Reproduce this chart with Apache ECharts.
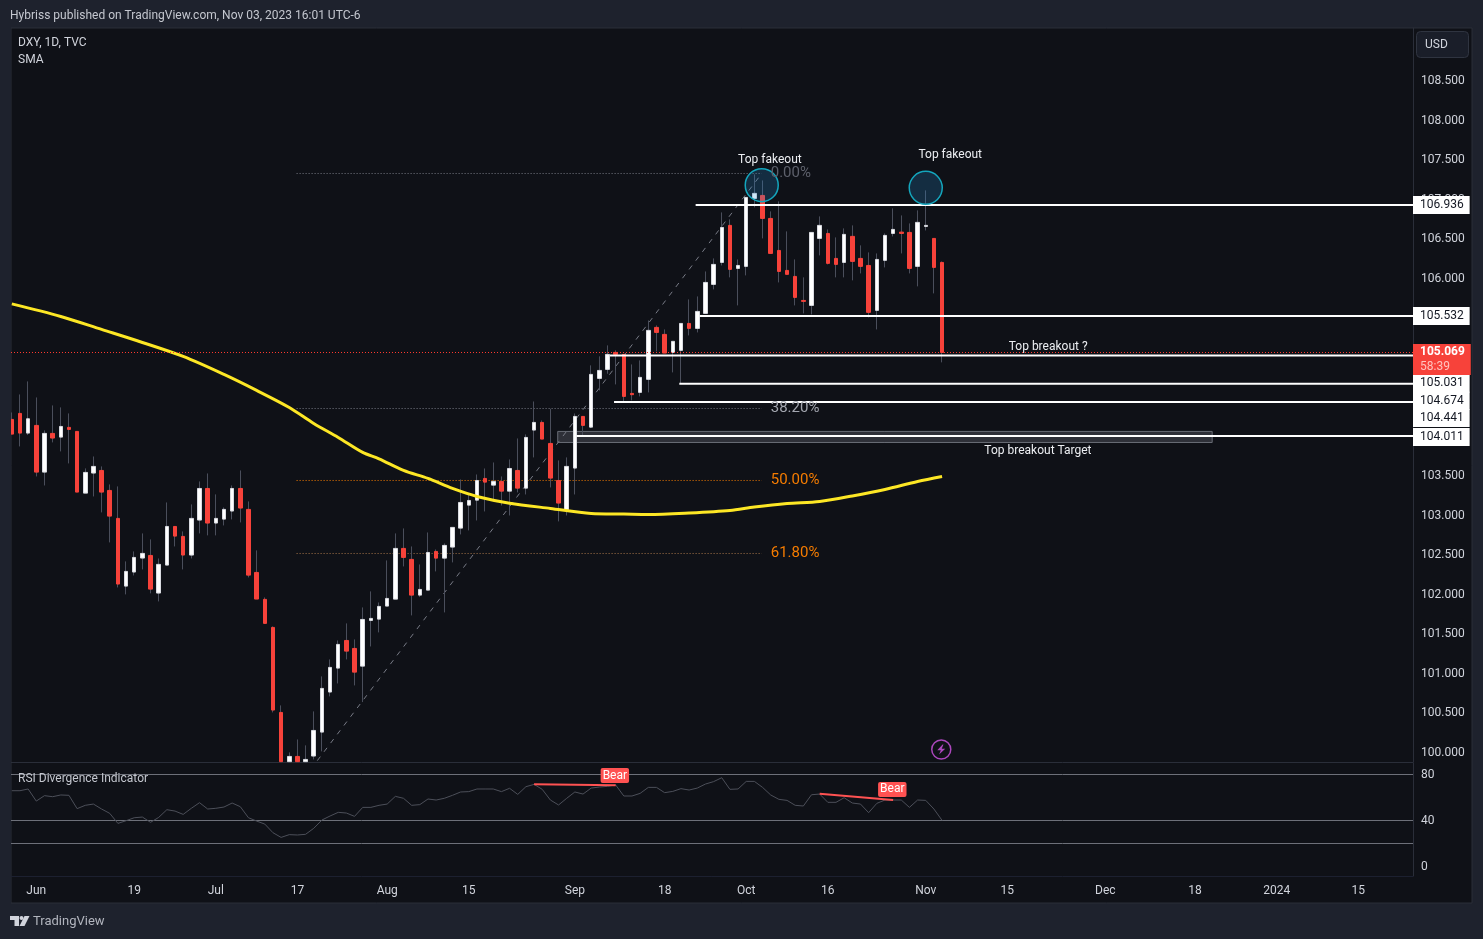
<!DOCTYPE html>
<html>
<head>
<meta charset="utf-8">
<title>DXY, 1D, TVC</title>
<script src="https://cdn.jsdelivr.net/npm/echarts@6/dist/echarts.min.js"></script>
<style>
  html, body { margin: 0; padding: 0; background: #1e222d; }
  #chart { width: 1483px; height: 939px; }
</style>
</head>
<body>
<div id="chart"></div>
<script>
const FONT = 'Roboto';

// bar 0 is Jun 1 2023, weekdays only
const firstBar = -3;
const opens = [
  104.222,104.298,104.049,104.146,103.555,104.045,103.998,104.121,104.070,103.289,
  103.543,103.576,103.323,102.969,102.112,102.290,102.467,102.500,102.024,102.378,
  102.867,102.741,102.505,102.948,103.348,102.910,102.960,103.062,103.348,103.083,
  102.285,101.944,101.589,100.513,99.89,99.956,99.89,99.961,100.264,100.771,
  101.074,101.424,101.323,101.099,101.677,101.694,101.859,101.947,102.589,102.450,
  101.998,102.061,102.551,102.466,102.606,102.846,103.137,103.200,103.475,103.390,
  103.437,103.314,103.576,103.352,104.087,104.184,103.918,103.449,103.082,103.606,
  104.260,104.124,104.741,104.855,105.070,105.045,104.551,104.564,104.729,105.387,
  105.298,105.070,105.096,105.437,105.374,105.564,105.931,106.209,106.678,106.133,
  106.159,107.019,107.057,106.766,106.361,106.108,106.032,105.728,105.665,106.513,
  106.576,106.260,106.209,106.539,106.260,106.171,105.602,106.235,106.576,106.593,
  106.589,106.159,106.665,106.513,106.209
];
const closes = [
  104.036,104.049,104.230,103.555,104.045,103.986,104.133,104.095,103.302,103.551,
  103.627,103.302,102.998,102.138,102.298,102.475,102.526,102.074,102.387,102.867,
  102.745,102.505,102.969,103.348,102.910,102.969,103.083,103.348,103.100,102.251,
  101.948,101.640,100.543,99.89,99.956,99.89,99.918,100.285,100.817,101.083,
  101.374,101.289,101.023,101.690,101.703,101.855,101.956,102.589,102.475,101.998,
  102.070,102.538,102.466,102.627,102.855,103.171,103.196,103.449,103.428,103.437,
  103.314,103.601,103.352,103.994,104.184,103.973,103.479,103.163,103.627,104.260,
  104.146,104.792,104.842,105.045,105.045,104.513,104.535,104.754,105.349,105.323,
  105.062,105.210,105.437,105.374,105.589,105.956,106.184,106.652,106.121,106.171,
  107.032,107.083,106.766,106.323,106.095,106.058,105.766,105.716,106.589,106.678,
  106.197,106.184,106.564,106.222,106.159,105.577,106.247,106.551,106.627,106.576,
  106.133,106.716,106.678,106.146,105.069
];
const lows = [
  104.036,103.880,104.024,103.500,103.386,103.931,103.817,103.665,103.302,103.289,
  103.247,103.045,102.665,102.095,102.007,102.247,102.323,102.020,101.918,102.378,
  102.614,102.323,102.462,102.779,102.754,102.754,102.880,102.956,102.918,102.222,
  101.948,101.640,100.513,99.89,99.89,99.89,99.89,99.918,100.020,100.716,
  100.880,101.184,100.855,100.644,101.348,101.526,101.859,101.947,102.361,101.741,
  101.973,102.061,102.298,101.779,102.412,102.766,102.817,102.943,103.057,103.213,
  103.133,103.006,103.298,103.272,103.741,103.973,103.361,102.931,103.006,103.272,
  104.019,104.112,104.589,104.800,104.665,104.454,104.463,104.513,104.564,105.083,
  105.062,104.817,104.678,105.285,105.323,105.564,105.868,106.171,106.020,105.665,
  106.045,106.906,106.513,106.323,105.956,106.058,105.665,105.564,105.551,106.298,
  106.184,106.020,106.020,105.982,106.070,105.513,105.361,106.146,106.538,106.323,
  106.070,105.906,106.614,105.817,104.944
];
const highs = [
  104.310,104.538,104.703,104.500,104.083,104.399,104.374,104.298,104.070,103.602,
  103.753,103.627,103.399,103.374,102.425,102.551,102.779,102.703,102.462,103.171,
  102.867,102.804,103.146,103.437,103.538,103.273,103.108,103.386,103.576,103.184,
  102.564,101.969,101.602,100.602,100.007,100.171,100.096,100.526,100.969,101.184,
  101.424,101.640,101.437,101.842,102.045,101.905,102.437,102.779,102.842,102.614,
  102.386,102.791,102.576,102.652,102.855,103.462,103.272,103.525,103.601,103.677,
  103.500,103.715,103.981,104.032,104.449,104.209,104.357,103.703,103.741,104.297,
  104.260,104.906,105.020,105.159,105.096,105.045,104.918,104.969,105.475,105.412,
  105.361,105.210,105.437,105.741,105.779,106.095,106.260,106.842,106.754,106.247,
  107.032,107.323,107.247,106.855,106.982,106.602,106.247,106.020,106.589,106.792,
  106.627,106.526,106.640,106.678,106.425,106.336,106.323,106.576,106.893,106.804,
  106.703,106.868,107.121,106.513,106.222
];
const rsiValues = [
  65.9,65.9,67.4,56.9,61.6,60.7,62.2,61.9,50.3,53.2,
  54.3,50.0,46.2,37.5,39.8,42.4,43.0,38.4,42.7,49.4,
  48.2,45.3,50.6,55.5,50.0,50.6,51.7,55.2,52.0,42.4,
  39.5,36.9,29.4,25.3,27.7,27.4,28.0,33.2,40.4,43.9,
  47.1,46.5,43.6,51.4,51.4,53.2,54.3,61.0,59.3,53.2,
  53.8,58.7,57.8,59.3,61.9,64.8,65.1,67.4,67.4,67.4,
  65.1,68.0,62.7,69.4,71.4,67.1,57.8,53.5,59.3,64.8,
  63.0,68.2,69.1,69.7,70.9,61.3,61.3,63.6,68.8,68.8,
  64.2,65.3,67.7,66.5,68.2,71.7,73.8,77.2,67.1,67.4,
  74.0,74.0,68.8,62.2,58.4,57.5,53.2,52.6,62.4,63.0,
  55.8,55.8,59.8,55.2,54.3,46.8,54.9,57.8,57.8,57.8,
  51.4,57.8,57.5,50.0,40.1
];

const smaBars = [-3,3,8,13,18,23,27,31,34,37,40,42,45,48,51,54,58,63,68,72,75,80,85,88,92,96,100,104,108,111];
const smaValues = [
  105.684,105.525,105.361,105.196,105.019,104.791,104.589,104.373,104.171,103.994,
  103.804,103.724,103.576,103.475,103.348,103.247,103.162,103.095,103.032,103.025,
  103.019,103.038,103.070,103.114,103.158,103.184,103.253,103.335,103.437,103.500
];

// drawn horizontal levels: price, first bar, shown in a tag on the price scale
const levelPrices = [106.936, 105.532, 105.031, 104.674, 104.441, 104.011];
const levelStarts = [80.8, 81.3, 70.3, 78.8, 70.8, 66.2];
const tagNudges = [0, 0, 28, 17, 16, 1];
const lastPrice = 105.069;
const countdown = '58:39';

const fibPrices = [107.335, 104.360, 103.449, 102.525];
const fibLabels = ['0.00%', '38.20%', '50.00%', '61.80%'];
const fibLineColors = ['#787b86', '#787b86', '#f57c00', '#a8774a'];
const fibTextColors = ['#5d606b', '#a3a6af', '#f57c00', '#f57c00'];
const fibStartBar = 31.9;
const fibEndBar = 88.9;
const fibLabelBar = 90;
const fibDiagonal = [[32, 99.57], [88.9, 107.335]];

const fakeoutCircles = [[88.9, 107.187], [109, 107.153]];
const targetBox = { x: [63.9, 144.1], y: [104.07, 103.93] };

const noteBars = [89.9, 112, 124, 122.75];
const notePrices = [107.5, 107.563, 105.135, 103.816];
const noteTexts = ['Top fakeout', 'Top fakeout', 'Top breakout ?', 'Top breakout Target'];

const bearLines = [[[61, 71.5], [71, 70.6]], [[96, 63.3], [105, 57.8]]];
const bearTags = [[70.9, 79.1], [104.9, 67]];
const rsiLevels = [80, 40, 20];

const timeTickBars = [0, 12, 22, 32, 43, 53, 66, 77, 87, 97, 109, 119, 131, 142, 152, 162];
const timeTickLabels = ['Jun', '19', 'Jul', '17', 'Aug', '15', 'Sep', '18', 'Oct', '16', 'Nov', '15', 'Dec', '18', '2024', '15'];
const priceTicks = [100, 100.5, 101, 101.5, 102, 102.5, 103, 103.5, 104, 104.5, 105, 105.5, 106, 106.5, 107, 107.5, 108, 108.5];
const rsiTicks = [0, 40, 80];

const barRange = [-3.1, 168.71];
const priceRange = [99.8855, 109.1765];
const rsiRange = [-8.26, 90];

const wickRows = opens.map((o, i) => [i + firstBar, o, closes[i], lows[i], highs[i]]);
const bodyRows = opens.map((o, i) => [i + firstBar, o, closes[i], Math.min(o, closes[i]), Math.max(o, closes[i])]);

function priceLine(name, data, color, width, type, z) {
    return {
        name: name, type: 'line', data: data, symbol: 'none', silent: true, z: z,
        lineStyle: { color: color, width: width, type: type }
    };
}

function plainText(text, left, top, size, color) {
    return { text: text, left: left, top: top, padding: 0, textStyle: { color: color, fontSize: size, fontWeight: 'normal', fontFamily: FONT } };
}

const series = [];

series.push({
    name: 'Target box', type: 'line', data: [], silent: true, z: 2,
    markArea: {
        silent: true,
        itemStyle: { color: 'rgba(120,123,134,0.3)', borderColor: '#696c76', borderWidth: 1 },
        data: [[{ xAxis: targetBox.x[0], yAxis: targetBox.y[0] }, { xAxis: targetBox.x[1], yAxis: targetBox.y[1] }]]
    }
});

fibPrices.forEach((p, i) => {
    series.push(priceLine('Fib ' + fibLabels[i], [[fibStartBar, p], [fibEndBar, p]], fibLineColors[i], 1, [1, 2], 2));
});
series.push(priceLine('Fib trend', fibDiagonal, '#787b86', 1, [5, 6], 3));

series.push({
    name: 'Wicks', type: 'candlestick', data: wickRows, barWidth: 1, silent: true, z: 4,
    encode: { x: 0, y: [1, 2, 3, 4] },
    itemStyle: { color: '#4a4e5b', color0: '#4a4e5b', borderColor: '#4a4e5b', borderColor0: '#4a4e5b', borderWidth: 1 }
});
series.push({
    name: 'DXY', type: 'candlestick', data: bodyRows, barWidth: 4, silent: true, z: 5,
    encode: { x: 0, y: [1, 2, 3, 4] },
    itemStyle: { color: '#ffffff', color0: '#f7423a', borderColor: '#d9dbe1', borderColor0: '#f7423a', borderWidth: 1 }
});

series.push(Object.assign(
    priceLine('SMA', smaBars.map((b, i) => [b, smaValues[i]]), '#fde725', 3, 'solid', 6),
    { smooth: 0.3 }
));

series.push({
    name: 'Last price line', type: 'line', data: [[barRange[0], lastPrice], [barRange[1], lastPrice]],
    symbol: 'none', silent: true, z: 6, lineStyle: { color: '#ff3b30', width: 1, type: [1, 2] }
});

levelPrices.forEach((p, i) => {
    series.push(priceLine('Level ' + p, [[levelStarts[i], p], [barRange[1], p]], '#ffffff', 2, 'solid', 7));
});

series.push({
    name: 'Fakeouts', type: 'scatter', data: fakeoutCircles, symbolSize: 33, silent: true, z: 8,
    itemStyle: { opacity: 1, color: 'rgba(41,145,220,0.22)', borderColor: '#14a6bd', borderWidth: 1.5 }
});

series.push({
    name: 'Fib labels', type: 'scatter', symbolSize: 0, silent: true, z: 9, clip: false,
    itemStyle: { opacity: 1 },
    data: fibPrices.map((p, i) => ({
        value: [fibLabelBar, p],
        label: { show: true, position: 'right', distance: 0, formatter: fibLabels[i], color: fibTextColors[i], fontSize: 15, fontFamily: FONT }
    }))
});

series.push({
    name: 'Notes', type: 'scatter', symbolSize: 0, silent: true, z: 9,
    itemStyle: { opacity: 1 },
    data: noteBars.map((b, i) => ({
        value: [b, notePrices[i]],
        label: { show: true, position: 'inside', formatter: noteTexts[i], color: '#eceef2', fontSize: 12, fontFamily: FONT }
    }))
});

series.push({
    name: 'Alert', type: 'scatter', data: [[110.9, 100.044]], symbolSize: 19, silent: true, z: 9,
    itemStyle: { opacity: 1, color: 'rgba(0,0,0,0)', borderColor: '#ab47bc', borderWidth: 1.5 }
});
series.push({
    name: 'Alert bolt', type: 'scatter', data: [[110.9, 100.044]], symbolSize: [8, 10], silent: true, z: 9,
    symbol: 'path://M7 0 L1 8 L5 8 L3 14 L10 6 L6 6 L8 0 Z',
    itemStyle: { opacity: 1, color: '#ab47bc' }
});

series.push({
    name: 'Level tags', type: 'scatter', symbolSize: 0, silent: true, z: 20, clip: false,
    itemStyle: { opacity: 1 },
    data: levelPrices.map((p, i) => ({
        value: [barRange[1], p],
        label: {
            show: true, position: 'right', distance: 0, offset: [0, tagNudges[i]], formatter: p.toFixed(3),
            backgroundColor: '#ffffff', color: '#131722', fontSize: 12, fontFamily: FONT,
            padding: [4, 6, 1, 7], lineHeight: 13
        }
    }))
});
series.push({
    name: 'Last price tag', type: 'scatter', symbolSize: 0, silent: true, z: 21, clip: false,
    itemStyle: { opacity: 1 },
    data: [{
        value: [barRange[1], lastPrice],
        label: {
            show: true, position: 'right', distance: 0, offset: [0, 7], backgroundColor: '#f7423a',
            padding: [1, 6, 0, 7], fontFamily: FONT,
            formatter: '{a|' + lastPrice.toFixed(3) + '}\n{b|' + countdown + '}',
            rich: {
                a: { color: '#ffffff', fontSize: 12, fontWeight: 'bold', lineHeight: 15, fontFamily: FONT },
                b: { color: '#ffc4bf', fontSize: 12, lineHeight: 15, fontFamily: FONT }
            }
        }
    }]
});

// RSI pane
rsiLevels.forEach(l => {
    series.push(Object.assign(priceLine('RSI level ' + l, [[barRange[0], l], [barRange[1], l]], '#6d7079', 1, 'solid', 2), { xAxisIndex: 1, yAxisIndex: 1 }));
});
series.push(Object.assign(
    priceLine('RSI', rsiValues.map((v, i) => [i + firstBar, v]), '#4c4f59', 1, 'solid', 3),
    { xAxisIndex: 1, yAxisIndex: 1 }
));
bearLines.forEach((seg, i) => {
    series.push(Object.assign(priceLine('Bear divergence ' + (i + 1), seg, '#ff5252', 2, 'solid', 4), { xAxisIndex: 1, yAxisIndex: 1 }));
});
series.push({
    name: 'Bear tags', type: 'scatter', symbolSize: 0, silent: true, z: 5, xAxisIndex: 1, yAxisIndex: 1,
    itemStyle: { opacity: 1 },
    data: bearTags.map(t => ({
        value: t,
        label: {
            show: true, position: 'inside', formatter: 'Bear', color: '#ffffff', fontSize: 12, fontFamily: FONT,
            backgroundColor: '#ff5252', borderRadius: 2, padding: [2, 2, 1, 2]
        }
    }))
});

const axisText = { color: '#d1d4dc', fontSize: 12, fontFamily: FONT };

const option = {
    animation: false,
    backgroundColor: '#1e222d',
    title: [
        plainText('Hybriss published on TradingView.com, Nov 03, 2023 16:01 UTC-6', 10, 10, 12, '#c4c7cf'),
        plainText('DXY, 1D, TVC', 18, 37, 12, '#d1d4dc'),
        plainText('SMA', 18, 54, 12, '#d1d4dc'),
        plainText('RSI Divergence Indicator', 18, 773, 12, '#c4c7cf'),
        plainText('TradingView', 33, 915, 13, '#b2b5be'),
        {
            text: 'USD', left: 1416, top: 31, padding: [8, 21, 7, 9], backgroundColor: '#1a1e29',
            borderColor: '#2f3440', borderWidth: 1, borderRadius: 4,
            textStyle: { color: '#d1d4dc', fontSize: 12, fontWeight: 'normal', fontFamily: FONT }
        }
    ],
    graphic: [
        { type: 'rect', z: -10, silent: true, shape: { x: 11, y: 28, width: 1461, height: 875 }, style: { fill: '#0f1117', stroke: '#2a2e39', lineWidth: 1 } },
        // covers the half bar that pokes past the left edge
        { type: 'rect', z: 100, silent: true, shape: { x: 0, y: 28, width: 11, height: 875 }, style: { fill: '#1e222d' } },
        // TradingView logo
        { type: 'polygon', silent: true, shape: { points: [[10, 916], [19, 916], [19, 926], [14.5, 926], [14.5, 920], [10, 920]] }, style: { fill: '#d1d4dc' } },
        { type: 'circle', silent: true, shape: { cx: 21.5, cy: 918, r: 2 }, style: { fill: '#d1d4dc' } },
        { type: 'polygon', silent: true, shape: { points: [[24.5, 916], [29.5, 916], [24.5, 926], [19.5, 926]] }, style: { fill: '#d1d4dc' } }
    ],
    grid: [
        { left: 11, top: 28, width: 1402, height: 734, containLabel: false },
        { left: 11, top: 763, width: 1402, height: 113, containLabel: false }
    ],
    xAxis: [
        {
            type: 'value', gridIndex: 0, min: barRange[0], max: barRange[1], splitLine: { show: false },
            axisLine: { show: true, onZero: false, lineStyle: { color: '#2a2e39' } }, axisTick: { show: false }, axisLabel: { show: false }
        },
        {
            type: 'value', gridIndex: 1, min: barRange[0], max: barRange[1], splitLine: { show: false },
            axisLine: { show: true, onZero: false, lineStyle: { color: '#1c2030' } }, axisTick: { show: false },
            axisLabel: Object.assign({}, axisText, {
                customValues: timeTickBars, margin: 9, hideOverlap: false,
                formatter: v => timeTickLabels[timeTickBars.indexOf(v)]
            })
        }
    ],
    yAxis: [
        {
            type: 'value', gridIndex: 0, position: 'right', min: priceRange[0], max: priceRange[1], splitLine: { show: false },
            axisLine: { show: true, onZero: false, lineStyle: { color: '#2a2e39' } }, axisTick: { show: false },
            axisLabel: Object.assign({}, axisText, { customValues: priceTicks, margin: 8, formatter: v => v.toFixed(3) })
        },
        {
            type: 'value', gridIndex: 1, position: 'right', min: rsiRange[0], max: rsiRange[1], splitLine: { show: false },
            axisLine: { show: true, onZero: false, lineStyle: { color: '#2a2e39' } }, axisTick: { show: false },
            axisLabel: Object.assign({}, axisText, { customValues: rsiTicks, margin: 8, padding: [2, 0, 0, 0] })
        }
    ],
    series: series
};

const chart = echarts.init(document.getElementById('chart'));
chart.setOption(option);
</script>
</body>
</html>
